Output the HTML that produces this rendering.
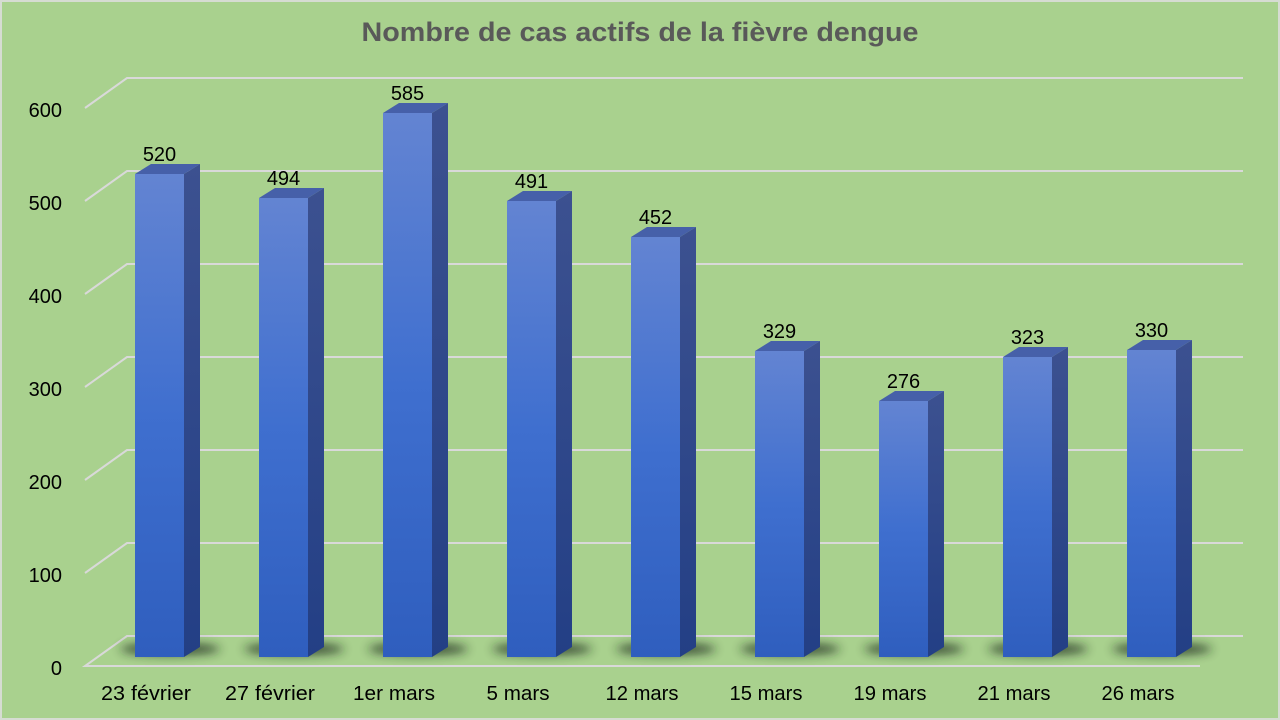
<!DOCTYPE html>
<html><head><meta charset="utf-8"><style>
html,body{margin:0;padding:0;background:#a9d18e;}
svg{display:block;}
</style></head><body>
<svg width="1280" height="720" viewBox="0 0 1280 720" xmlns="http://www.w3.org/2000/svg">
<defs>
<linearGradient id="fr" x1="0" y1="0" x2="0" y2="1">
<stop offset="0" stop-color="#6384d2"/><stop offset="0.5" stop-color="#3f6fcf"/><stop offset="1" stop-color="#2f5ebe"/>
</linearGradient>
<linearGradient id="sd" x1="0" y1="0" x2="0" y2="1">
<stop offset="0" stop-color="#3c5190"/><stop offset="1" stop-color="#233f85"/>
</linearGradient>
<filter id="bl" x="-50%" y="-300%" width="200%" height="700%"><feGaussianBlur stdDeviation="5"/></filter>
</defs>
<rect x="0" y="0" width="1280" height="720" fill="#a9d18e"/>
<rect x="1" y="1" width="1278" height="718" fill="none" stroke="#d6dcd2" stroke-width="2"/>
<text x="640" y="41" text-anchor="middle" font-family="Liberation Sans, sans-serif" font-weight="bold" font-size="27" fill="#595959" textLength="557" lengthAdjust="spacingAndGlyphs">Nombre de cas actifs de la fièvre dengue</text>
<g stroke="#d9d9d9" stroke-width="2" fill="none">
<polyline points="85,108 127,78 1243,78"/>
<polyline points="85,201 127,171 1243,171"/>
<polyline points="85,294 127,264 1243,264"/>
<polyline points="85,387 127,357 1243,357"/>
<polyline points="85,480 127,450 1243,450"/>
<polyline points="85,573 127,543 1243,543"/>
<polyline points="1200,666 85,666 127,636 1243,636"/>
</g>
<g font-family="Liberation Sans, sans-serif" font-size="20" fill="#000" text-anchor="end">
<text x="62" y="117">600</text>
<text x="62" y="210">500</text>
<text x="62" y="303">400</text>
<text x="62" y="396">300</text>
<text x="62" y="489">200</text>
<text x="62" y="582">100</text>
<text x="62" y="675">0</text>
</g>
<g fill="#1a2a1a" opacity="0.8" filter="url(#bl)">
<ellipse cx="170" cy="649" rx="50" ry="6"/>
<ellipse cx="294" cy="649" rx="50" ry="6"/>
<ellipse cx="418" cy="649" rx="50" ry="6"/>
<ellipse cx="542" cy="649" rx="50" ry="6"/>
<ellipse cx="666" cy="649" rx="50" ry="6"/>
<ellipse cx="790" cy="649" rx="50" ry="6"/>
<ellipse cx="914" cy="649" rx="50" ry="6"/>
<ellipse cx="1038" cy="649" rx="50" ry="6"/>
<ellipse cx="1162" cy="649" rx="50" ry="6"/>
</g>
<g font-family="Liberation Sans, sans-serif" font-size="20">
<g transform="translate(135,0)"><rect x="0" y="174" width="49" height="483" fill="url(#fr)"/><polygon points="49,174 65,164 65,647 49,657" fill="url(#sd)"/><polygon points="0,174 16,164 65,164 49,174" fill="#4660a9"/><text x="24.5" y="161" text-anchor="middle">520</text></g>
<g transform="translate(259,0)"><rect x="0" y="198" width="49" height="459" fill="url(#fr)"/><polygon points="49,198 65,188 65,647 49,657" fill="url(#sd)"/><polygon points="0,198 16,188 65,188 49,198" fill="#4660a9"/><text x="24.5" y="185" text-anchor="middle">494</text></g>
<g transform="translate(383,0)"><rect x="0" y="113" width="49" height="544" fill="url(#fr)"/><polygon points="49,113 65,103 65,647 49,657" fill="url(#sd)"/><polygon points="0,113 16,103 65,103 49,113" fill="#4660a9"/><text x="24.5" y="100" text-anchor="middle">585</text></g>
<g transform="translate(507,0)"><rect x="0" y="201" width="49" height="456" fill="url(#fr)"/><polygon points="49,201 65,191 65,647 49,657" fill="url(#sd)"/><polygon points="0,201 16,191 65,191 49,201" fill="#4660a9"/><text x="24.5" y="188" text-anchor="middle">491</text></g>
<g transform="translate(631,0)"><rect x="0" y="237" width="49" height="420" fill="url(#fr)"/><polygon points="49,237 65,227 65,647 49,657" fill="url(#sd)"/><polygon points="0,237 16,227 65,227 49,237" fill="#4660a9"/><text x="24.5" y="224" text-anchor="middle">452</text></g>
<g transform="translate(755,0)"><rect x="0" y="351" width="49" height="306" fill="url(#fr)"/><polygon points="49,351 65,341 65,647 49,657" fill="url(#sd)"/><polygon points="0,351 16,341 65,341 49,351" fill="#4660a9"/><text x="24.5" y="338" text-anchor="middle">329</text></g>
<g transform="translate(879,0)"><rect x="0" y="401" width="49" height="256" fill="url(#fr)"/><polygon points="49,401 65,391 65,647 49,657" fill="url(#sd)"/><polygon points="0,401 16,391 65,391 49,401" fill="#4660a9"/><text x="24.5" y="388" text-anchor="middle">276</text></g>
<g transform="translate(1003,0)"><rect x="0" y="357" width="49" height="300" fill="url(#fr)"/><polygon points="49,357 65,347 65,647 49,657" fill="url(#sd)"/><polygon points="0,357 16,347 65,347 49,357" fill="#4660a9"/><text x="24.5" y="344" text-anchor="middle">323</text></g>
<g transform="translate(1127,0)"><rect x="0" y="350" width="49" height="307" fill="url(#fr)"/><polygon points="49,350 65,340 65,647 49,657" fill="url(#sd)"/><polygon points="0,350 16,340 65,340 49,350" fill="#4660a9"/><text x="24.5" y="337" text-anchor="middle">330</text></g>
</g>
<g font-family="Liberation Sans, sans-serif" font-size="20" fill="#000" text-anchor="middle">
<text x="146" y="700" textLength="90" lengthAdjust="spacingAndGlyphs">23 février</text>
<text x="270" y="700" textLength="90" lengthAdjust="spacingAndGlyphs">27 février</text>
<text x="394" y="700" textLength="82" lengthAdjust="spacingAndGlyphs">1er mars</text>
<text x="518" y="700" textLength="63" lengthAdjust="spacingAndGlyphs">5 mars</text>
<text x="642" y="700" textLength="73" lengthAdjust="spacingAndGlyphs">12 mars</text>
<text x="766" y="700" textLength="73" lengthAdjust="spacingAndGlyphs">15 mars</text>
<text x="890" y="700" textLength="73" lengthAdjust="spacingAndGlyphs">19 mars</text>
<text x="1014" y="700" textLength="73" lengthAdjust="spacingAndGlyphs">21 mars</text>
<text x="1138" y="700" textLength="73" lengthAdjust="spacingAndGlyphs">26 mars</text>
</g>
</svg>
</body></html>
